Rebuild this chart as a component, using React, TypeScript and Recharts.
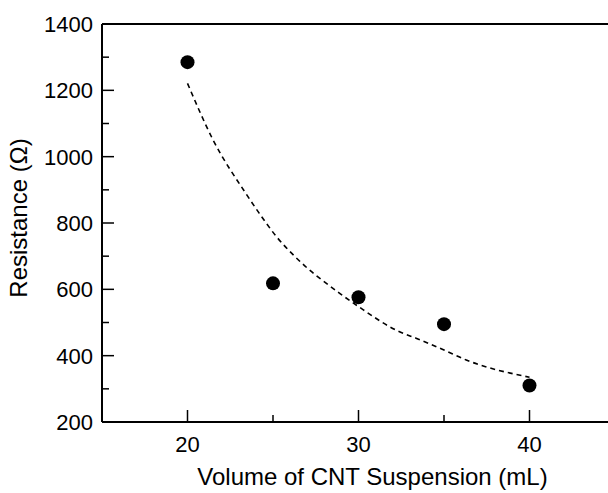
import React from 'react';
import { ComposedChart, Scatter, Line, XAxis, YAxis } from 'recharts';

// measured points
const volume = [20, 25, 30, 35, 40];
const resistance = [1285, 618, 576, 495, 310];

// dashed fit curve
const fitVolume = [20, 21.5, 23.4, 24.2, 25.2, 26.3, 28.9, 30, 32.4, 33.4, 35, 36.3, 40];
const fitResistance = [1221, 1050, 890, 829, 759, 698, 588, 548, 472, 452, 417, 387, 335];

const xTicks = [20, 25, 30, 35, 40];
const yTicks = [200, 300, 400, 500, 600, 700, 800, 900, 1000, 1100, 1200, 1300, 1400];

const points = volume.map((v, i) => ({ x: v, y: resistance[i] }));
const fit = fitVolume.map((v, i) => ({ x: v, y: fitResistance[i] }));

const FONT = '"Liberation Sans", Arial, sans-serif';
const INK = '#000';
const MAJOR = 12;
const MINOR = 7;

type Side = 'bottom' | 'top' | 'left' | 'right';

const makeTick = (side: Side, majorEvery: number, showLabel: boolean) => (props: any) => {
  const { x, y, payload } = props;
  const v = payload.value;
  const major = v % majorEvery === 0;
  const len = major ? MAJOR : MINOR;
  let line;
  if (side === 'bottom') line = <line x1={x} x2={x} y1={y} y2={y - len} stroke={INK} strokeWidth={1.5} />;
  else if (side === 'top') line = <line x1={x} x2={x} y1={y} y2={y + len} stroke={INK} strokeWidth={1.5} />;
  else if (side === 'left') line = <line x1={x} x2={x + len} y1={y} y2={y} stroke={INK} strokeWidth={1.5} />;
  else line = <line x1={x} x2={x - len} y1={y} y2={y} stroke={INK} strokeWidth={1.5} />;

  let label = null;
  if (showLabel && major) {
    if (side === 'bottom') {
      label = (
        <text x={x} y={y + 30} textAnchor="middle" fontSize={22} fontFamily={FONT} fill={INK}>
          {v}
        </text>
      );
    } else if (side === 'left') {
      label = (
        <text x={x - 9} y={y + 8} textAnchor="end" fontSize={22} fontFamily={FONT} fill={INK}>
          {v}
        </text>
      );
    }
  }
  return (
    <g>
      {line}
      {label}
    </g>
  );
};

const XTitle = (props: any) => {
  const vb = props.viewBox;
  return (
    <text x={vb.x + vb.width / 2 + 14} y={vb.y + 63} textAnchor="middle" fontSize={24} fontFamily={FONT} fill={INK}>
      Volume of CNT Suspension (mL)
    </text>
  );
};

const YTitle = (props: any) => {
  const vb = props.viewBox;
  const cx = 27;
  const cy = vb.y + vb.height / 2 - 5;
  return (
    <text x={cx} y={cy} transform={`rotate(-90, ${cx}, ${cy})`} textAnchor="middle" fontSize={24} fontFamily={FONT} fill={INK}>
      Resistance (Ω)
    </text>
  );
};

const App: React.FC = () => {
  return (
    <div style={{ position: 'absolute', left: 0, top: 0, width: 608, height: 493, overflow: 'hidden', background: '#fff' }}>
      <ComposedChart width={640} height={493} margin={{ top: 23, right: 24, bottom: 0, left: 0 }}>
        <XAxis
          xAxisId="bottom"
          type="number"
          dataKey="x"
          domain={[15, 45]}
          ticks={xTicks}
          height={71}
          tickSize={0}
          tickMargin={0}
          tickLine={false}
          axisLine={{ stroke: INK, strokeWidth: 2 }}
          tick={makeTick('bottom', 10, true)}
          label={{ content: XTitle }}
        />
        <XAxis
          xAxisId="top"
          orientation="top"
          type="number"
          dataKey="x"
          domain={[15, 45]}
          ticks={xTicks}
          height={1}
          tickSize={0}
          tickMargin={0}
          tickLine={false}
          axisLine={{ stroke: INK, strokeWidth: 2 }}
          tick={makeTick('top', 10, false)}
        />
        <YAxis
          yAxisId="left"
          type="number"
          domain={[200, 1400]}
          ticks={yTicks}
          width={102}
          tickSize={0}
          tickMargin={0}
          tickLine={false}
          axisLine={{ stroke: INK, strokeWidth: 2 }}
          tick={makeTick('left', 200, true)}
          label={{ content: YTitle }}
        />
        <YAxis
          yAxisId="right"
          orientation="right"
          type="number"
          domain={[200, 1400]}
          ticks={yTicks}
          width={1}
          tickSize={0}
          tickMargin={0}
          tickLine={false}
          axisLine={{ stroke: INK, strokeWidth: 2 }}
          tick={makeTick('right', 200, false)}
        />
        <Line
          xAxisId="bottom"
          yAxisId="left"
          data={fit}
          dataKey="y"
          type="monotone"
          stroke={INK}
          strokeWidth={1.6}
          strokeDasharray="5 4"
          dot={false}
          activeDot={false}
          isAnimationActive={false}
        />
        <Scatter
          xAxisId="bottom"
          yAxisId="left"
          data={points}
          dataKey="y"
          fill={INK}
          shape={(p: any) => <circle cx={p.cx} cy={p.cy} r={7} fill={INK} />}
          isAnimationActive={false}
        />
      </ComposedChart>
    </div>
  );
};

export default App;
